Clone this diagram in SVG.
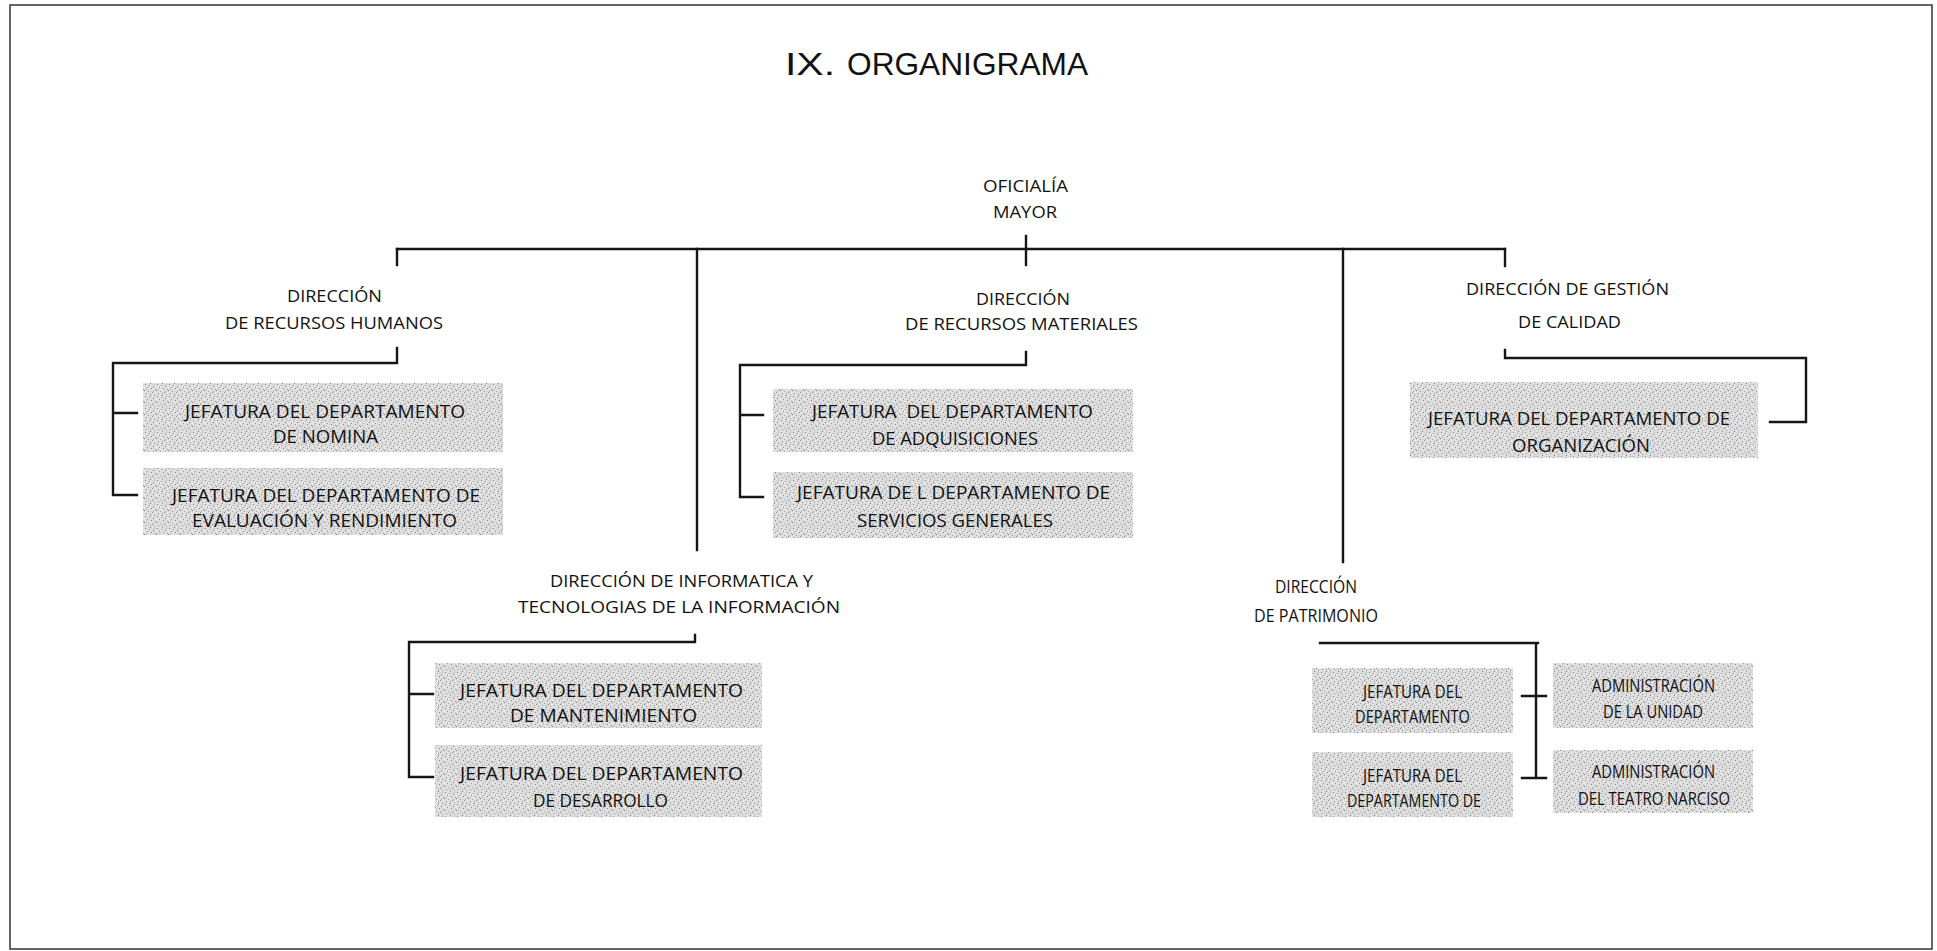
<svg xmlns="http://www.w3.org/2000/svg" width="1937" height="951" viewBox="0 0 1937 951">
<style>
.dir{font-family:"Open Sans","Noto Sans","Liberation Sans",sans-serif;font-size:16px;fill:#111}
.dirL{font-family:"Open Sans","Noto Sans","Liberation Sans",sans-serif;font-size:18.5px;fill:#111}
.box{font-family:"Open Sans","Noto Sans","Liberation Sans",sans-serif;font-size:19px;fill:#111}
.boxS{font-family:"Open Sans","Noto Sans","Liberation Sans",sans-serif;font-size:17.5px;fill:#111}
.title{font-family:"Liberation Sans",Arial,sans-serif;font-size:31px;fill:#111}
.conn path{fill:none;stroke:#151515;stroke-width:2.4;stroke-linecap:square}
.bg{fill:url(#speckle)}
</style>
<defs>
<pattern id="speckle" width="12" height="12" patternUnits="userSpaceOnUse">
<rect width="12" height="12" fill="#dedede"/>
<rect x="1" y="0" width="1" height="1" fill="#8a8a8a"/>
<rect x="5" y="1" width="1" height="1" fill="#a0a0a0"/>
<rect x="9" y="2" width="1" height="1" fill="#7c7c7c"/>
<rect x="3" y="3" width="1" height="1" fill="#959595"/>
<rect x="7" y="4" width="1" height="1" fill="#888"/>
<rect x="11" y="5" width="1" height="1" fill="#9a9a9a"/>
<rect x="0" y="6" width="1" height="1" fill="#818181"/>
<rect x="4" y="7" width="1" height="1" fill="#a5a5a5"/>
<rect x="8" y="8" width="1" height="1" fill="#868686"/>
<rect x="2" y="9" width="1" height="1" fill="#999"/>
<rect x="10" y="10" width="1" height="1" fill="#8f8f8f"/>
<rect x="6" y="11" width="1" height="1" fill="#7f7f7f"/>
<rect x="9" y="7" width="1" height="1" fill="#a8a8a8"/>
<rect x="2" y="5" width="1" height="1" fill="#adadad"/>
<rect x="6" y="9" width="1" height="1" fill="#a3a3a3"/>
<rect x="10" y="0" width="1" height="1" fill="#b0b0b0"/>
<rect x="4" y="2" width="1" height="1" fill="#f4f4f4"/>
<rect x="8" y="10" width="1" height="1" fill="#f4f4f4"/>
<rect x="0" y="3" width="1" height="1" fill="#f2f2f2"/>
<rect x="11" y="8" width="1" height="1" fill="#f2f2f2"/>
</pattern>
</defs>
<rect width="1937" height="951" fill="#fff"/>
<rect x="10" y="5" width="1922" height="944" fill="none" stroke="#333" stroke-width="1.5"/>

<g id="title">
<text x="785" y="75" class="title" fill="#777" textLength="50" lengthAdjust="spacingAndGlyphs">IX.</text>
<text x="847" y="75" class="title" textLength="241" lengthAdjust="spacingAndGlyphs">ORGANIGRAMA</text>
</g>

<g class="conn" id="connectors">
<path d="M397,249 H1505"/>
<path d="M397,249 V265"/>
<path d="M697,249 V550"/>
<path d="M1026,236 V265"/>
<path d="M1343,249 V562"/>
<path d="M1505,249 V266"/>
<path d="M397,348 V363 H113 V495 H137 M113,413 H137"/>
<path d="M1026,352 V365 H740 V497 H763 M740,415 H763"/>
<path d="M1505,350 V358 H1806 V422 H1770"/>
<path d="M695,635 V642 H409 V777 H433 M409,694 H433"/>
<path d="M1320,643 H1538 M1536,643 V778 M1522,696 H1546 M1522,778 H1546"/>
</g>

<g id="oficialia">
<text x="983" y="192" class="dir" textLength="85" lengthAdjust="spacingAndGlyphs">OFICIALÍA</text>
<text x="993" y="218" class="dir" textLength="64" lengthAdjust="spacingAndGlyphs">MAYOR</text>
</g>

<g id="dir-rh">
<text x="287" y="302" class="dir" textLength="95" lengthAdjust="spacingAndGlyphs">DIRECCIÓN</text>
<text x="225" y="329" class="dir" textLength="218" lengthAdjust="spacingAndGlyphs">DE RECURSOS HUMANOS</text>
</g>
<g id="dir-rm">
<text x="976" y="305" class="dir" textLength="94" lengthAdjust="spacingAndGlyphs">DIRECCIÓN</text>
<text x="905" y="330" class="dir" textLength="233" lengthAdjust="spacingAndGlyphs">DE RECURSOS MATERIALES</text>
</g>
<g id="dir-gc">
<text x="1466" y="295" class="dir" textLength="203" lengthAdjust="spacingAndGlyphs">DIRECCIÓN DE GESTIÓN</text>
<text x="1518" y="328" class="dir" textLength="103" lengthAdjust="spacingAndGlyphs">DE CALIDAD</text>
</g>
<g id="dir-it">
<text x="550" y="587" class="dir" textLength="263" lengthAdjust="spacingAndGlyphs">DIRECCIÓN DE INFORMATICA Y</text>
<text x="518" y="613" class="dir" textLength="322" lengthAdjust="spacingAndGlyphs">TECNOLOGIAS DE LA INFORMACIÓN</text>
</g>
<g id="dir-pat">
<text x="1275" y="593" class="dirL" textLength="82" lengthAdjust="spacingAndGlyphs">DIRECCIÓN</text>
<text x="1254" y="622" class="dirL" textLength="124" lengthAdjust="spacingAndGlyphs">DE PATRIMONIO</text>
</g>

<g id="jef-nomina">
<rect x="143" y="383" width="360" height="69" class="bg"/>
<text x="185" y="418" class="box" textLength="280" lengthAdjust="spacingAndGlyphs">JEFATURA DEL DEPARTAMENTO</text>
<text x="273" y="443" class="box" textLength="105" lengthAdjust="spacingAndGlyphs">DE NOMINA</text>
</g>
<g id="jef-evaluacion">
<rect x="143" y="468" width="360" height="67" class="bg"/>
<text x="172" y="502" class="box" textLength="308" lengthAdjust="spacingAndGlyphs">JEFATURA DEL DEPARTAMENTO DE</text>
<text x="192" y="527" class="box" textLength="265" lengthAdjust="spacingAndGlyphs">EVALUACIÓN Y RENDIMIENTO</text>
</g>
<g id="jef-adquisiciones">
<rect x="773" y="389" width="360" height="63" class="bg"/>
<text x="812" y="418" class="box" textLength="281" lengthAdjust="spacingAndGlyphs" xml:space="preserve">JEFATURA  DEL DEPARTAMENTO</text>
<text x="872" y="445" class="box" textLength="166" lengthAdjust="spacingAndGlyphs">DE ADQUISICIONES</text>
</g>
<g id="jef-servicios">
<rect x="773" y="472" width="360" height="66" class="bg"/>
<text x="797" y="499" class="box" textLength="313" lengthAdjust="spacingAndGlyphs">JEFATURA DE L DEPARTAMENTO DE</text>
<text x="857" y="527" class="box" textLength="196" lengthAdjust="spacingAndGlyphs">SERVICIOS GENERALES</text>
</g>
<g id="jef-organizacion">
<rect x="1410" y="382" width="348" height="76" class="bg"/>
<text x="1428" y="425" class="box" textLength="302" lengthAdjust="spacingAndGlyphs">JEFATURA DEL DEPARTAMENTO DE</text>
<text x="1512" y="452" class="box" textLength="138" lengthAdjust="spacingAndGlyphs">ORGANIZACIÓN</text>
</g>
<g id="jef-mantenimiento">
<rect x="435" y="663" width="327" height="65" class="bg"/>
<text x="460" y="697" class="box" textLength="283" lengthAdjust="spacingAndGlyphs">JEFATURA DEL DEPARTAMENTO</text>
<text x="510" y="722" class="box" textLength="187" lengthAdjust="spacingAndGlyphs">DE MANTENIMIENTO</text>
</g>
<g id="jef-desarrollo">
<rect x="435" y="745" width="327" height="72" class="bg"/>
<text x="460" y="780" class="box" textLength="283" lengthAdjust="spacingAndGlyphs">JEFATURA DEL DEPARTAMENTO</text>
<text x="533" y="807" class="box" textLength="135" lengthAdjust="spacingAndGlyphs">DE DESARROLLO</text>
</g>
<g id="jef-pat-1">
<rect x="1312" y="668" width="201" height="65" class="bg"/>
<text x="1363" y="698" class="boxS" textLength="99" lengthAdjust="spacingAndGlyphs">JEFATURA DEL</text>
<text x="1355" y="723" class="boxS" textLength="115" lengthAdjust="spacingAndGlyphs">DEPARTAMENTO</text>
</g>
<g id="jef-pat-2">
<rect x="1312" y="752" width="201" height="65" class="bg"/>
<text x="1363" y="782" class="boxS" textLength="99" lengthAdjust="spacingAndGlyphs">JEFATURA DEL</text>
<text x="1347" y="807" class="boxS" textLength="134" lengthAdjust="spacingAndGlyphs">DEPARTAMENTO DE</text>
</g>
<g id="adm-unidad">
<rect x="1553" y="663" width="200" height="65" class="bg"/>
<text x="1592" y="692" class="boxS" textLength="123" lengthAdjust="spacingAndGlyphs">ADMINISTRACIÓN</text>
<text x="1603" y="718" class="boxS" textLength="100" lengthAdjust="spacingAndGlyphs">DE LA UNIDAD</text>
</g>
<g id="adm-teatro">
<rect x="1553" y="750" width="200" height="63" class="bg"/>
<text x="1592" y="778" class="boxS" textLength="123" lengthAdjust="spacingAndGlyphs">ADMINISTRACIÓN</text>
<text x="1578" y="805" class="boxS" textLength="152" lengthAdjust="spacingAndGlyphs">DEL TEATRO NARCISO</text>
</g>
</svg>
